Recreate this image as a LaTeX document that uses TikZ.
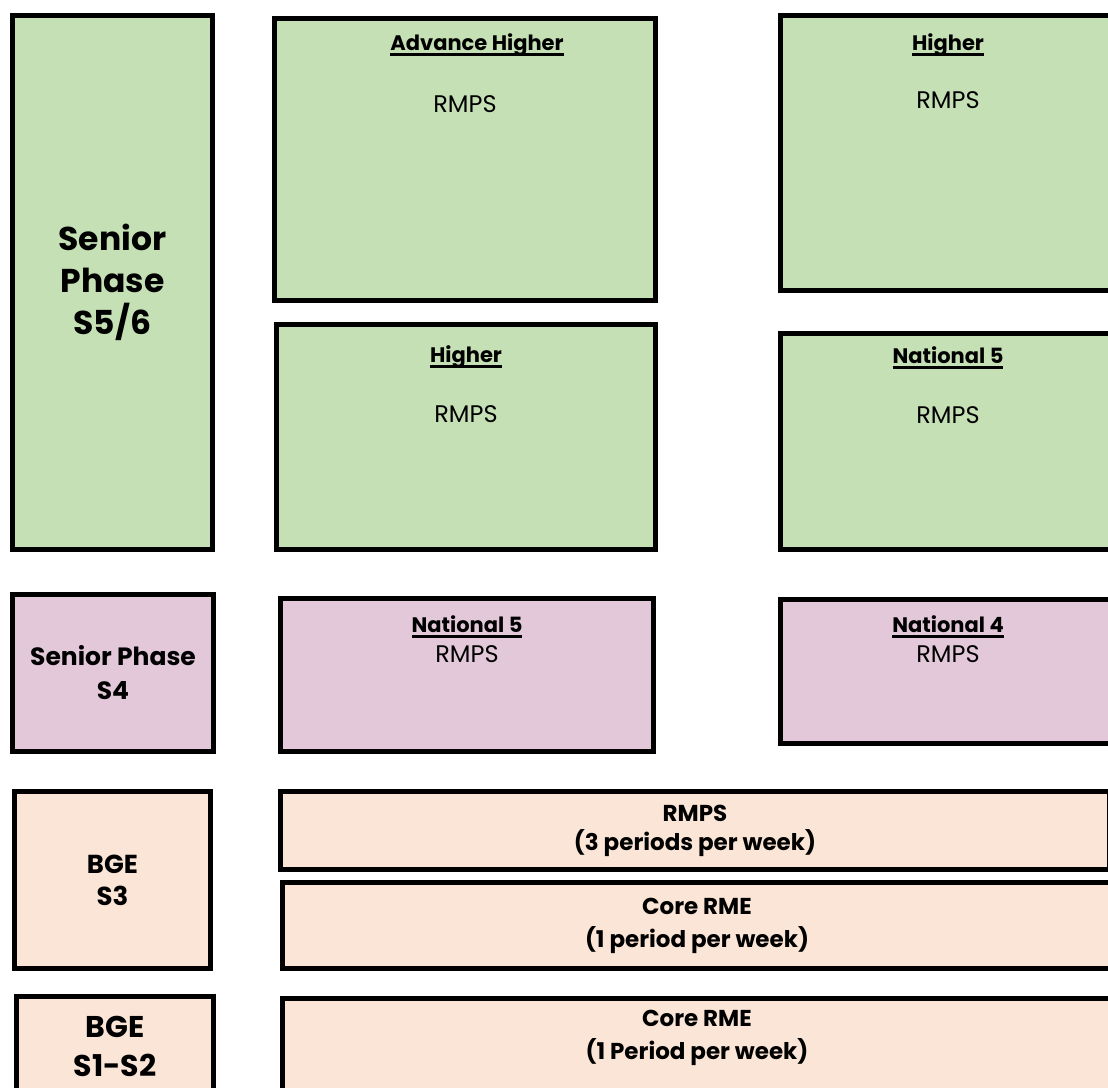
\documentclass[tikz,border=0pt]{standalone}
\usepackage{fontspec}
\setmainfont{Poppins}
\usetikzlibrary{positioning}

\definecolor{seniorgreen}{HTML}{C5E0B4}
\definecolor{seniorpink}{HTML}{E3C8DA}
\definecolor{bgepeach}{HTML}{FBE5D6}

% heading with a thick rule just under the baseline
\newsavebox\headbox
\newcommand{\headline}[1]{\sbox\headbox{#1}\rlap{\rule[-5.5pt]{\wd\headbox}{2.3pt}}\usebox\headbox}

\begin{document}
\begin{tikzpicture}[x=1pt, y=-1pt,
    box/.style={draw, line width=5pt, rectangle, inner sep=0pt, outer sep=0pt,
        anchor=north west, align=center},
    greenbox/.style={box, fill=seniorgreen},
    pinkbox/.style={box, fill=seniorpink},
    peachbox/.style={box, fill=bgepeach, font=\fontsize{23}{29}\selectfont\bfseries},
    phasebig/.style={font=\fontsize{33}{42}\selectfont\bfseries},
    phasemid/.style={font=\fontsize{25}{34}\selectfont\bfseries},
    title/.style={anchor=base, inner sep=0pt, font=\fontsize{21}{25}\selectfont\bfseries},
    subject/.style={anchor=base, inner sep=0pt, font=\fontsize{24}{28}\selectfont}]

    \useasboundingbox (0,0) rectangle (1108,1087);
    \clip (0,0) rectangle (1108,1087);

    % senior phase S5/6
    \node (sp56) [greenbox, phasebig, minimum width=200pt, minimum height=534pt] at (12.5,15.5) {Senior\\Phase\\S5/6};
    \node (ah)   [greenbox, minimum width=381pt, minimum height=282pt] at (274.5,18.5) {};
    \node (hione) [greenbox, minimum width=335pt, minimum height=275pt] at (780.5,15.5) {};
    \node (hitwo) [greenbox, minimum width=379pt, minimum height=225pt] at (276.5,324.5) {};
    \node (nfiveg) [greenbox, minimum width=335pt, minimum height=216pt] at (780.5,333.5) {};

    \node (ahtitle)    [title, xshift=12pt] at ([yshift=-31.5pt]ah.north) {\headline{Advance Higher}};
    \node (ahsubject)  [subject] at ([yshift=-93.5pt]ah.north) {RMPS};
    \node (hionetitle)   [title] at ([yshift=-34.5pt]hione.north) {\headline{Higher}};
    \node (hionesubject) [subject] at ([yshift=-92.5pt]hione.north) {RMPS};
    \node (hitwotitle)   [title] at ([yshift=-37.5pt]hitwo.north) {\headline{Higher}};
    \node (hitwosubject) [subject] at ([yshift=-97.5pt]hitwo.north) {RMPS};
    \node (nfivegtitle)   [title] at ([yshift=-29.5pt]nfiveg.north) {\headline{National 5}};
    \node (nfivegsubject) [subject] at ([yshift=-89.5pt]nfiveg.north) {RMPS};

    % senior phase S4
    \node (sp4)    [pinkbox, phasemid, minimum width=201pt, minimum height=157pt] at (12.5,594.5) {Senior Phase\\S4};
    \node (nfivep) [pinkbox, minimum width=373pt, minimum height=153pt] at (280.5,598.5) {};
    \node (nfour)  [pinkbox, minimum width=335pt, minimum height=144pt] at (780.5,599.5) {};

    \node (nfiveptitle)   [title] at ([yshift=-33.5pt]nfivep.north) {\headline{National 5}};
    \node (nfivepsubject) [subject] at ([yshift=-63.5pt]nfivep.north) {RMPS};
    \node (nfourtitle)    [title] at ([yshift=-32.5pt]nfour.north) {\headline{National 4}};
    \node (noursubject)   [subject] at ([yshift=-62.5pt]nfour.north) {RMPS};

    % broad general education
    \node (bgethree) [peachbox, font=\fontsize{26}{32}\selectfont\bfseries, minimum width=196pt, minimum height=177pt] at (14.5,791.5) {BGE\\S3};
    \node (rmpsthree) [peachbox, minimum width=829pt, minimum height=78pt] at (280.5,791.5) {RMPS\\(3 periods per week)};
    \node (corethree) [peachbox, font=\fontsize{23}{33}\selectfont\bfseries, minimum width=829pt, minimum height=86pt] at (282.5,882.5) {Core RME\\(1 period per week)};

    \node (bgeone)  [peachbox, font=\fontsize{30}{39}\selectfont\bfseries, minimum width=197pt, minimum height=99pt] at (16.5,996.5) {BGE\\S1-S2};
    \node (coreone) [peachbox, minimum width=829pt, minimum height=120pt] at (282.5,998.5) {};
    \node (coreonetext) [inner sep=0pt, anchor=north, align=center, font=\fontsize{23}{33}\selectfont\bfseries]
        at ([yshift=-11.5pt]coreone.north) {Core RME\\(1 Period per week)};
\end{tikzpicture}
\end{document}
